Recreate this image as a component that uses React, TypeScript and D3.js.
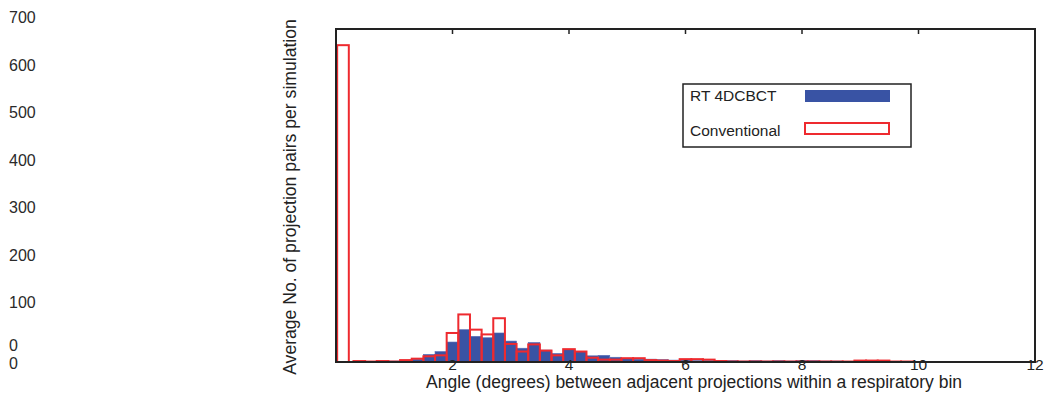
import React from "react";
import * as d3 from "d3";

const binCenters = [0.4,0.6,0.8,1.0,1.2,1.4,1.6,1.8,2.0,2.2,2.4,2.6,2.8,3.0,3.2,3.4,3.6,3.8,4.0,4.2,4.4,4.6,4.8,5.0,5.2,5.4,5.6,5.8,6.0,6.2,6.4,6.6,6.8,7.0,7.2,7.4,7.6,7.8,8.0,8.2,8.4,8.6,8.8,9.0,9.2,9.4,9.6,9.8];
const rtValues = [1,1,2,2,3,6,16,22,42,68,54,51,61,44,29,41,25,18,26,22,13,14,10,7,6,6,5,4,4,3,3,3,3,2,3,2,3,2,3,3,2,2,1,1,1,1,1,0];
const convValues = [2,1,2,1,4,7,12,14,61,100,68,58,92,38,22,37,24,14,27,22,9,5,5,8,8,4,3,2,6,6,5,2,1,1,1,1,1,1,1,1,1,1,1,3,3,3,1,1];
const firstBinCenter = 0.12;
const firstBinConv = 666;
const xTicks = [2, 4, 6, 8, 10, 12];
const yTickLabels = [100, 200, 300, 400, 500, 600, 700];
const zeroLabels = [0, 0];

const W = 1046, H = 396;
const L = 336, R = 1035, T = 29, B = 362;
const BLUE = "#3953a4";
const RED = "#ee2a2f";
const FONT = "'Liberation Sans', Arial, Helvetica, sans-serif";

export default function App() {
  const x = d3.scaleLinear().domain([0, 12]).range([L, R]);
  const y = d3.scaleLinear().domain([0, 700]).range([B, T]);
  const yLab = d3.scaleLinear().domain([0, 700]).range([350.2, 17.4]);
  const zeroY = [345, 363];
  const bw = x(0.2) - x(0);

  return (
    <svg width={W} height={H} style={{ position: "absolute", left: 0, top: 0, background: "#fff" }} fontFamily={FONT}>
      {/* y labels column */}
      {yTickLabels.map((v) => (
        <text key={v} x={9} y={yLab(v)} dy="0.35em" fontSize={16} fill="#2a2a2a">{v}</text>
      ))}
      {zeroLabels.map((v, i) => (
        <text key={"z" + i} x={9} y={zeroY[i]} dy="0.35em" fontSize={16} fill="#2a2a2a">{v}</text>
      ))}

      {/* y title */}
      <text transform={`translate(296,197) rotate(-90)`} textAnchor="middle" fontSize={17.6} fill="#222">
        Average No. of projection pairs per simulation
      </text>

      {/* blue bars */}
      {binCenters.map((c, i) => (
        <rect key={"b" + i} x={x(c) - bw / 2} y={y(rtValues[i])} width={bw} height={B - y(rtValues[i])} fill={BLUE} stroke="#5a70b8" strokeWidth={0.6} />
      ))}
      {/* red bars */}
      <rect x={x(firstBinCenter) - bw / 2} y={y(firstBinConv)} width={bw} height={B - y(firstBinConv)} fill="none" stroke={RED} strokeWidth={2} />
      {binCenters.map((c, i) => (
        <rect key={"r" + i} x={x(c) - bw / 2} y={y(convValues[i])} width={bw} height={B - y(convValues[i])} fill="none" stroke={RED} strokeWidth={2} />
      ))}

      {/* frame */}
      <rect x={L} y={T} width={R - L} height={B - T} fill="none" stroke="#222" strokeWidth={2} />
      {xTicks.slice(0, -1).map((t) => (
        <line key={"t" + t} x1={x(t)} x2={x(t)} y1={T} y2={T + 5} stroke="#222" strokeWidth={1.5} />
      ))}
      {/* x tick labels */}
      {xTicks.map((t) => (
        <text key={"xl" + t} x={x(t)} y={B + 3} dy="0.35em" textAnchor="middle" fontSize={15.5} fill="#222">{t}</text>
      ))}
      {/* x title */}
      <text x={694} y={388} textAnchor="middle" fontSize={17.5} fill="#222">
        Angle (degrees) between adjacent projections within a respiratory bin
      </text>

      {/* legend */}
      <rect x={683} y={84} width={228} height={63} fill="#fff" stroke="#222" strokeWidth={1.5} />
      <text x={690} y={96} dy="0.35em" fontSize={15.5} fill="#222">RT 4DCBCT</text>
      <rect x={805} y={90} width={85} height={12} fill={BLUE} />
      <text x={690} y={131} dy="0.35em" fontSize={15.5} fill="#222">Conventional</text>
      <rect x={805} y={123} width={84} height={11} fill="#fff" stroke={RED} strokeWidth={2} />
    </svg>
  );
}
